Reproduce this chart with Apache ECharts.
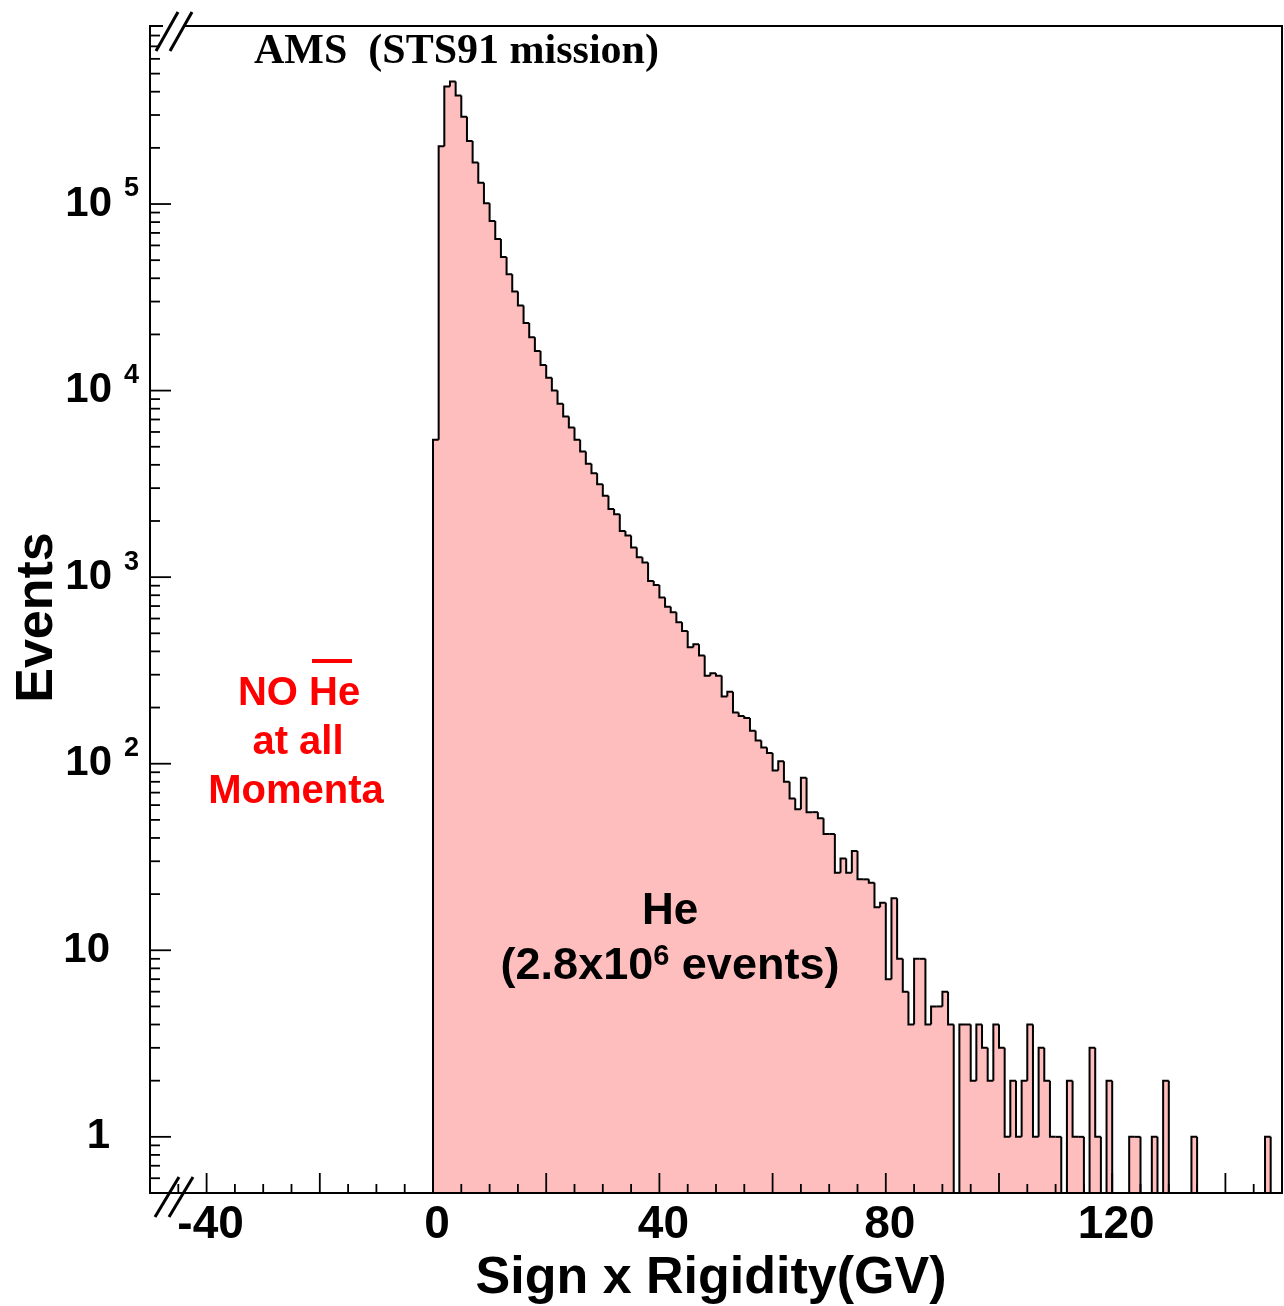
<!DOCTYPE html>
<html>
<head>
<meta charset="utf-8">
<script src="https://cdn.jsdelivr.net/npm/echarts@6/dist/echarts.min.js"></script>
<style>
html,body{margin:0;padding:0;background:#fff;}
#chart{width:1284px;height:1306px;}
</style>
</head>
<body>
<div id="chart"></div>
<script>
// ---- data ----
// He events per 1 GV bin of Sign x Rigidity, starting at 0 GV (bin 0 = 0..1 GV)
const BIN_START = 0;
const BIN_WIDTH = 1;
const counts = [
  5450, 204000, 427000, 454000, 382000, 294000, 218000, 167000, 130000, 101000,
  81000, 65000, 52000, 42000, 34000, 28600, 23000, 19300, 16300, 13700,
  11700, 10000, 8490, 7260, 6340, 5450, 4710, 4050, 3610, 3150,
  2730, 2320, 2175, 1770, 1670, 1440, 1280, 1200, 955, 909,
  777, 695, 649, 573, 515, 421, 437, 380, 296, 305,
  296, 229, 243, 188, 180, 176, 150, 133, 122, 114,
  92, 103, 80, 65, 57, 84, 55, 55, 51, 42,
  42, 26, 31, 26, 34, 24, 24, 23, 17, 18,
  7, 19, 9, 6, 4, 9, 9, 4, 5, 5,
  6, 4, 0, 4, 4, 2, 4, 3, 2, 4,
  3, 1, 2, 1, 2, 4, 1, 3, 2, 1,
  1, 0, 2, 1, 1, 0, 3, 1, 0, 2,
  0, 0, 0, 1, 1, 0, 0, 1, 0, 2,
  0, 0, 0, 0, 1, 0, 0, 0, 0, 0,
  0, 0, 0, 0, 0, 0, 0, 1, 0, 0
];
const xTickLabels = [-40, 0, 40, 80, 120];
const yTickLabels = [1, 10, 100, 1000, 10000, 100000];

// ---- axes / style constants ----
const X_MIN = -50, X_MAX = 150;
const Y_MIN = 0.5, Y_MAX = 900000;
const FILL = '#ffbebe';
const SANS = '"Liberation Sans", Arial, Helvetica, sans-serif';
const SERIF = '"Liberation Serif", "Times New Roman", serif';

// histogram items: [x0, x1, count, previous count]
const histData = counts.map((c, i) => [
  BIN_START + i * BIN_WIDTH,
  BIN_START + (i + 1) * BIN_WIDTH,
  c,
  i === 0 ? 0 : counts[i - 1]
]);

// tick marks (axis furniture)
const yTicks = [];
for (let e = -1; e <= 5; e++) {
  for (let m = 1; m <= 9; m++) {
    const v = m * Math.pow(10, e);
    if (v < Y_MIN || v > 800001) continue;
    yTicks.push([X_MIN, v, m === 1 ? 21 : 10]);
  }
}
const xTicks = [];
for (let v = -45; v <= 145; v += 5) {
  xTicks.push([v, Y_MIN, v % 20 === 0 ? 20 : 9]);
}

function lvl(v) { return v > 0 ? v : Y_MIN; }

function renderFill(params, api) {
  const c = api.value(2);
  if (!(c > 0)) return null;
  const a = api.coord([api.value(0), c]);
  const b = api.coord([api.value(1), Y_MIN]);
  return {
    type: 'rect',
    shape: { x: a[0] - 0.5, y: a[1], width: b[0] - a[0] + 1, height: b[1] - a[1] },
    style: { fill: FILL }
  };
}

function renderOutline(params, api) {
  const x0 = api.value(0), x1 = api.value(1);
  const cur = lvl(api.value(2)), prev = lvl(api.value(3));
  const p = api.coord([x0, prev]);
  const a = api.coord([x0, cur]);
  const b = api.coord([x1, cur]);
  return {
    type: 'polyline',
    shape: { points: [p, a, b] },
    style: { stroke: '#000', lineWidth: 2, fill: null, lineJoin: 'miter' }
  };
}

function renderYTick(params, api) {
  const p = api.coord([api.value(0), api.value(1)]);
  const len = api.value(2);
  return {
    type: 'line',
    shape: { x1: p[0], y1: p[1], x2: p[0] + len, y2: p[1] },
    style: { stroke: '#000', lineWidth: 1.8 }
  };
}

function renderXTick(params, api) {
  const p = api.coord([api.value(0), api.value(1)]);
  const len = api.value(2);
  return {
    type: 'line',
    shape: { x1: p[0], y1: p[1], x2: p[0], y2: p[1] - len },
    style: { stroke: '#000', lineWidth: 1.8 }
  };
}

const chart = echarts.init(document.getElementById('chart'), null, { renderer: 'canvas' });

const option = {
  animation: false,
  backgroundColor: '#fff',
  grid: {
    left: 150, right: 2, top: 26, bottom: 113,
    outerBoundsMode: 'none',
    containLabel: false,
    show: true, borderColor: '#000', borderWidth: 2, backgroundColor: 'transparent'
  },
  xAxis: {
    type: 'value',
    min: X_MIN, max: X_MAX, interval: 5,
    z: 10,
    axisLine: { show: true, onZero: false, lineStyle: { color: '#000', width: 2 } },
    axisTick: { show: false },
    splitLine: { show: false },
    axisLabel: {
      interval: 0,
      hideOverlap: false,
      margin: 9,
      color: '#000',
      fontFamily: SANS,
      fontWeight: 'bold',
      fontSize: 46,
      padding: [0, 0, 0, 8],
      formatter: v => xTickLabels.indexOf(Math.round(v)) >= 0 && Math.abs(v - Math.round(v)) < 1e-9 ? String(Math.round(v)) : ''
    },
    name: 'Sign x Rigidity(GV)',
    nameLocation: 'middle',
    nameGap: 83,
    nameTextStyle: {
      color: '#000', fontFamily: SANS, fontWeight: 'bold', fontSize: 52,
      verticalAlign: 'middle', padding: [0, 10, 0, 0]
    }
  },
  yAxis: {
    type: 'log',
    logBase: 10,
    min: Y_MIN, max: Y_MAX,
    z: 10,
    axisLine: { show: true, onZero: false, lineStyle: { color: '#000', width: 2 } },
    axisTick: { show: false },
    splitLine: { show: false },
    minorTick: { show: false },
    axisLabel: {
      margin: 11,
      color: '#000',
      formatter: function (v) {
        const e = Math.log10(v);
        const r = Math.round(e);
        if (Math.abs(e - r) > 1e-6) return '';
        const tv = Math.pow(10, r);
        if (yTickLabels.indexOf(tv) < 0) return '';
        if (r === 0) return '{p|1}';
        if (r === 1) return '{p|10}';
        return '{b|10}{s|' + r + '}';
      },
      rich: {
        b: { fontFamily: SANS, fontWeight: 'bold', fontSize: 42, lineHeight: 56, color: '#000' },
        p: { fontFamily: SANS, fontWeight: 'bold', fontSize: 42, lineHeight: 56, color: '#000', padding: [0, 29, 0, 0] },
        s: { fontFamily: SANS, fontWeight: 'bold', fontSize: 27, lineHeight: 26, color: '#000', padding: [0, 0, 30, 12] }
      }
    },
    name: 'Events',
    nameLocation: 'middle',
    nameGap: 112,
    nameRotate: 90,
    nameMoveOverlap: false,
    nameTextStyle: {
      color: '#000', fontFamily: SANS, fontWeight: 'bold', fontSize: 52,
      verticalAlign: 'middle', padding: [0, 16, 0, 0]
    }
  },
  series: [
    {
      type: 'custom', name: 'He fill',
      renderItem: renderFill,
      data: histData,
      clip: true,
      z: 2,
      silent: true
    },
    {
      type: 'custom', name: 'He',
      renderItem: renderOutline,
      data: histData,
      clip: true,
      z: 3,
      silent: true
    },
    {
      type: 'custom', name: 'yticks',
      renderItem: renderYTick,
      data: yTicks,
      z: 11,
      silent: true
    },
    {
      type: 'custom', name: 'xticks',
      renderItem: renderXTick,
      data: xTicks,
      z: 11,
      silent: true
    }
  ],
  graphic: [
    // gap in top frame + axis-break marks
    { type: 'rect', z: 100, shape: { x: 163, y: 22, width: 22, height: 8 }, style: { fill: '#fff' } },
    { type: 'line', z: 101, shape: { x1: 156, y1: 51, x2: 178, y2: 12 }, style: { stroke: '#000', lineWidth: 3 } },
    { type: 'line', z: 101, shape: { x1: 170, y1: 51, x2: 192, y2: 12 }, style: { stroke: '#000', lineWidth: 3 } },
    { type: 'line', z: 101, shape: { x1: 155, y1: 1217, x2: 179, y2: 1177 }, style: { stroke: '#000', lineWidth: 3 } },
    { type: 'line', z: 101, shape: { x1: 169, y1: 1217, x2: 193, y2: 1177 }, style: { stroke: '#000', lineWidth: 3 } },
    // title
    { type: 'text', z: 100, style: { x: 254, y: 52, text: 'AMS  (STS91 mission)', font: 'bold 42px ' + SERIF, fill: '#000', align: 'left', verticalAlign: 'middle' } },
    // red annotation
    { type: 'text', z: 100, style: { x: 299, y: 694, text: 'NO He', font: 'bold 40px ' + SANS, fill: '#ff0000', align: 'center', verticalAlign: 'middle' } },
    { type: 'rect', z: 100, shape: { x: 312, y: 659, width: 40, height: 4 }, style: { fill: '#ff0000' } },
    { type: 'text', z: 100, style: { x: 298, y: 743, text: 'at all', font: 'bold 40px ' + SANS, fill: '#ff0000', align: 'center', verticalAlign: 'middle' } },
    { type: 'text', z: 100, style: { x: 296, y: 792, text: 'Momenta', font: 'bold 40px ' + SANS, fill: '#ff0000', align: 'center', verticalAlign: 'middle' } },
    // He annotation
    { type: 'text', z: 100, style: { x: 670, y: 912, text: 'He', font: 'bold 44px ' + SANS, fill: '#000', align: 'center', verticalAlign: 'middle' } },
    {
      type: 'text', z: 100,
      style: {
        x: 670, y: 967, align: 'center', verticalAlign: 'middle',
        text: '{b|(2.8x10}{s|6}{b| events)}',
        rich: {
          b: { fontFamily: SANS, fontWeight: 'bold', fontSize: 45, lineHeight: 47, fill: '#000' },
          s: { fontFamily: SANS, fontWeight: 'bold', fontSize: 29, lineHeight: 27, fill: '#000', padding: [0, 0, 20, 0] }
        }
      }
    }
  ]
};

chart.setOption(option);
</script>
</body>
</html>
